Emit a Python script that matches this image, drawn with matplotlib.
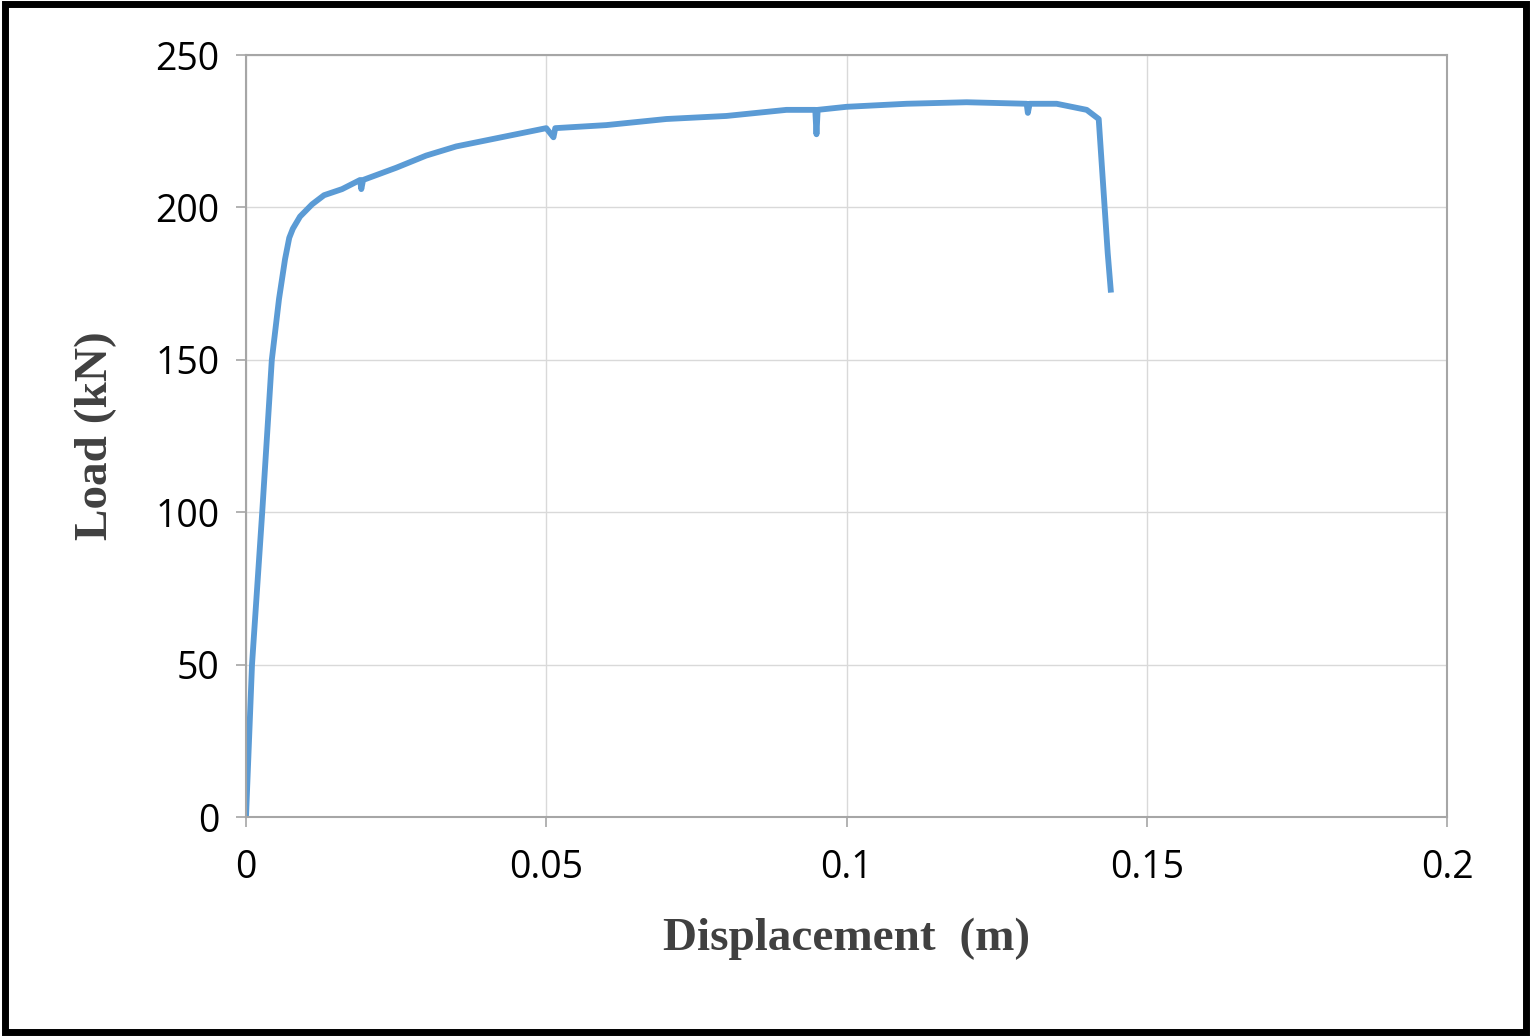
import matplotlib
matplotlib.use("Agg")
import matplotlib.pyplot as plt

# displacement (m) and load (kN)
disp = [0, 0.001, 0.0027, 0.0043, 0.0055, 0.0065, 0.0072, 0.0078, 0.009,
        0.011, 0.013, 0.016, 0.019, 0.0192, 0.0195, 0.025, 0.03, 0.035, 0.04,
        0.045, 0.05, 0.0512, 0.0515, 0.06, 0.07, 0.08, 0.09, 0.0948, 0.095,
        0.0952, 0.1, 0.11, 0.12, 0.13, 0.1302, 0.1305, 0.135, 0.14, 0.142,
        0.1435, 0.144]
load = [0, 50, 100, 150, 170, 183, 190, 193, 197,
        201, 204, 206, 209, 206, 209, 213, 217, 220, 222,
        224, 226, 223, 226, 227, 229, 230, 232, 232, 224,
        232, 233, 234, 234.5, 234, 231, 234, 234, 232, 229,
        185, 173]

xticks = [0, 0.05, 0.1, 0.15, 0.2]
xticklabels = ["0", "0.05", "0.1", "0.15", "0.2"]
yticks = [0, 50, 100, 150, 200, 250]

fig = plt.figure(figsize=(15.31, 10.36), dpi=100)
ax = fig.add_axes([246 / 1531, 1 - 817 / 1036, (1447 - 246) / 1531, (817 - 55) / 1036])

ax.plot(disp, load, color="#5B9BD5", lw=4.2, solid_joinstyle="round")

ax.set_xlim(0, 0.2)
ax.set_ylim(0, 250)
ax.set_xticks(xticks)
ax.set_xticklabels(xticklabels)
ax.set_yticks(yticks)
ax.grid(True, color="#D9D9D9", lw=1)
ax.set_axisbelow(True)
for s in ax.spines.values():
    s.set_color("#A6A6A6")
    s.set_linewidth(1.5)
ax.tick_params(axis="both", direction="out", length=7, width=1.2, color="#A6A6A6",
               labelsize=27, labelcolor="black", pad=12)
ax.tick_params(axis="x", pad=16)
for lab in ax.get_xticklabels() + ax.get_yticklabels():
    lab.set_family("Open Sans")

ax.set_xlabel("Displacement  (m)", family="Liberation Serif", weight="bold",
              fontsize=34, color="#404040", labelpad=22)
ax.set_ylabel("Load (kN)", family="Liberation Serif", weight="bold",
              fontsize=34, color="#404040", labelpad=28)

# thick black frame around the whole picture
fig.patches.append(plt.Rectangle((0.003, 0.004), 0.994, 0.992, transform=fig.transFigure,
                                 fill=False, edgecolor="black", lw=5))

fig.savefig("out.png", dpi=100)
